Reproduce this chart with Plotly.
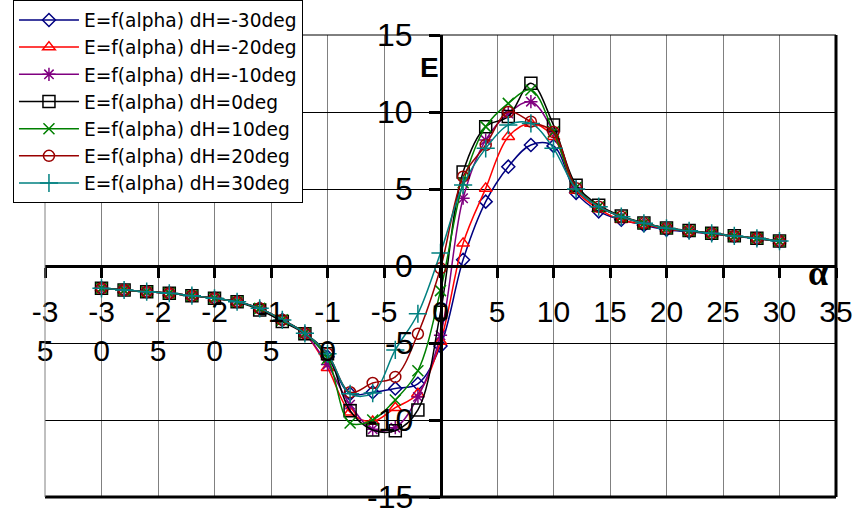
import plotly.graph_objects as go

alpha = [-30, -28, -26, -24, -22, -20, -18, -16, -14, -12, -10, -8, -6, -4, -2, 0,
         2, 4, 6, 8, 10, 12, 14, 16, 18, 20, 22, 24, 26, 28, 30]

e_m30 = [-1.45, -1.56, -1.67, -1.77, -1.93, -2.10, -2.32, -2.75, -3.50, -4.37, -5.9, -8.3, -8.2, -7.95, -7.65, -5.2,
         0.4, 4.18, 6.45, 7.86, 7.8, 4.75, 3.55, 3.0, 2.65, 2.35, 2.22, 2.08, 1.93, 1.78, 1.6]
e_m20 = [-1.45, -1.56, -1.67, -1.77, -1.93, -2.10, -2.32, -2.75, -3.50, -4.40, -6.6, -9.5, -10.1, -9.2, -8.3, -4.9,
         1.47, 5.04, 8.4, 9.26, 8.4, 4.9, 3.7, 3.0, 2.7, 2.4, 2.27, 2.1, 1.95, 1.8, 1.62]
e_m10 = [-1.45, -1.56, -1.67, -1.77, -1.93, -2.10, -2.32, -2.75, -3.50, -4.40, -6.4, -9.0, -10.6, -10.5, -8.5, -4.5,
         4.4, 8.18, 9.9, 10.67, 8.7, 5.1, 3.85, 3.2, 2.77, 2.45, 2.29, 2.12, 1.95, 1.8, 1.62]
e_0 = [-1.45, -1.56, -1.67, -1.77, -1.93, -2.10, -2.32, -2.85, -3.60, -4.40, -5.7, -9.4, -10.65, -10.7, -9.35, -3.0,
       6.1, 9.05, 9.7, 11.86, 9.15, 5.25, 3.95, 3.25, 2.8, 2.47, 2.3, 2.13, 1.96, 1.81, 1.63]
e_10 = [-1.45, -1.56, -1.67, -1.77, -1.93, -2.10, -2.32, -2.75, -3.50, -4.37, -6.0, -10.2, -10.0, -8.7, -6.8, -1.6,
        5.4, 9.05, 10.56, 11.43, 8.72, 5.1, 3.85, 3.2, 2.77, 2.45, 2.29, 2.12, 1.95, 1.8, 1.62]
e_20 = [-1.45, -1.56, -1.67, -1.77, -1.93, -2.10, -2.32, -2.75, -3.50, -4.37, -5.7, -8.2, -7.6, -7.2, -4.4, -0.15,
        5.8, 7.86, 10.0, 9.37, 8.7, 5.05, 3.85, 3.2, 2.77, 2.45, 2.29, 2.12, 1.95, 1.8, 1.62]
e_30 = [-1.45, -1.56, -1.67, -1.77, -1.93, -2.10, -2.32, -2.75, -3.50, -4.37, -5.7, -8.3, -8.25, -5.45, -3.1, 0.85,
        5.26, 7.64, 9.15, 9.26, 7.64, 5.0, 3.85, 3.2, 2.77, 2.45, 2.29, 2.12, 1.95, 1.8, 1.62]

names = ["E=f(alpha) dH=-30deg", "E=f(alpha) dH=-20deg", "E=f(alpha) dH=-10deg",
         "E=f(alpha) dH=0deg", "E=f(alpha) dH=10deg", "E=f(alpha) dH=20deg", "E=f(alpha) dH=30deg"]
series = [e_m30, e_m20, e_m10, e_0, e_10, e_20, e_30]

x_tickvals = [-35, -30, -25, -20, -15, -10, -5, 0, 5, 10, 15, 20, 25, 30, 35]
x_ticktext = ["-3<br>5", "-3<br>0", "-2<br>5", "-2<br>0", "-1<br>5", "-1<br>0", "-5", "0",
              "5", "10", "15", "20", "25", "30", "35"]
y_tickvals = [-15, -10, -5, 0, 5, 10, 15]
y_ticktext = ["-15", "-10", "-5", "0", "5", "10", "15"]

colors = ["#000080", "#FF0000", "#800080", "#000000", "#008000", "#990000", "#008080"]
symbols = ["diamond-open", "triangle-up-open", "asterisk-open", "square-open",
           "x-thin-open", "circle-open", "cross-thin-open"]
sizes = [10, 11, 11, 12, 11, 11, 13]

FONT = "Liberation Sans, Arial, sans-serif"

fig = go.Figure()
for ys, nm, c, s, sz in zip(series, names, colors, symbols, sizes):
    fig.add_trace(go.Scatter(
        x=alpha, y=ys, name=nm, mode="lines+markers",
        line=dict(color=c, width=1.5, shape="spline", smoothing=1.0),
        marker=dict(symbol=s, size=sz, color=c, line=dict(color=c, width=1.5)),
    ))

# y tick labels drawn next to the central (free) y axis
ylabel_ann = [
    dict(text=t, x=0, y=v, xref="x", yref="y", xanchor="right", yanchor="middle",
         xshift=-26, showarrow=False, font=dict(family=FONT, size=32, color="black"))
    for v, t in zip(y_tickvals, y_ticktext)
]

fig.update_layout(
    width=857, height=508,
    margin=dict(l=45, r=21, t=35, b=11, autoexpand=False),
    paper_bgcolor="white", plot_bgcolor="white",
    font=dict(family=FONT, color="black"),
    showlegend=True,
    legend=dict(
        x=-0.0405, y=1.075, xanchor="left", yanchor="top",
        bgcolor="white", bordercolor="black", borderwidth=1,
        font=dict(family="DejaVu Sans, sans-serif", size=18.6, color="black"),
        itemwidth=60, tracegroupgap=0,
    ),
    xaxis=dict(
        range=[-35, 35], domain=[0, 1], anchor="free", position=0.5,
        tickmode="array", tickvals=x_tickvals, ticktext=x_ticktext,
        ticks="outside", ticklen=10, tickwidth=3, tickcolor="black",
        showline=True, linewidth=3, linecolor="black",
        showgrid=True, gridcolor="#808080", gridwidth=1, zeroline=False,
        tickfont=dict(family=FONT, size=30, color="black"),
        ticklabelstandoff=8, automargin=False, ticklabeloverflow="allow",
    ),
    yaxis=dict(
        range=[-15, 15], domain=[0, 1], anchor="free", position=0.5,
        tickmode="array", tickvals=y_tickvals, ticktext=y_ticktext,
        ticks="outside", ticklen=11, tickwidth=3, tickcolor="black",
        showticklabels=False,
        showline=True, linewidth=3, linecolor="black",
        showgrid=True, gridcolor="#000000", gridwidth=1, zeroline=False,
        automargin=False,
    ),
    shapes=[
        dict(type="line", xref="paper", yref="paper", x0=0, x1=1, y0=1, y1=1,
             line=dict(color="black", width=1), layer="above"),
        dict(type="line", xref="paper", yref="paper", x0=0, x1=1, y0=0, y1=0,
             line=dict(color="black", width=3), layer="above"),
        dict(type="line", xref="paper", yref="paper", x0=1, x1=1, y0=0, y1=1,
             line=dict(color="black", width=3), layer="above"),
        dict(type="line", xref="paper", yref="paper", x0=0, x1=0, y0=0, y1=1,
             line=dict(color="#808080", width=1), layer="above"),
    ],
    annotations=ylabel_ann + [
        dict(text="<b>E</b>", x=-0.97, y=12.9, xref="x", yref="y", showarrow=False,
             font=dict(family=FONT, size=28, color="black")),
        dict(text="<b>α</b>", x=33.4, y=-0.45, xref="x", yref="y", showarrow=False,
             font=dict(family="Liberation Serif, Times New Roman, serif", size=36, color="black")),
    ],
)

fig.write_html("out.html")
